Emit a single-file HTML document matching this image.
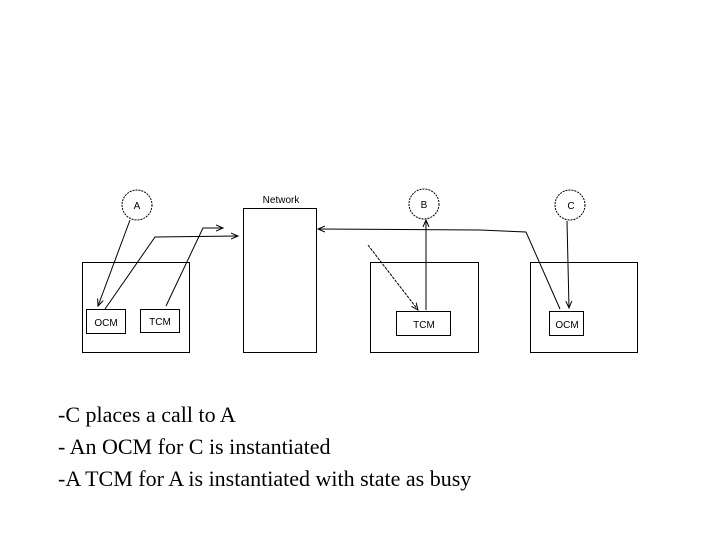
<!DOCTYPE html>
<html><head><style>
body{margin:0;background:#fff;width:720px;height:540px;overflow:hidden}
</style></head><body>
<svg width="720" height="540" xmlns="http://www.w3.org/2000/svg" style="position:absolute;left:0;top:0">
<defs><marker id="a" markerWidth="8" markerHeight="8" refX="7" refY="4" orient="auto" markerUnits="userSpaceOnUse"><path d="M0,1 L7,4 L0,7" fill="none" stroke="#000" stroke-width="1"/></marker></defs>
<g fill="none" stroke="#000" stroke-width="1">
<circle cx="137" cy="205" r="15" stroke-dasharray="2,1"/>
<circle cx="424" cy="204" r="15" stroke-dasharray="2,1"/>
<circle cx="570" cy="205" r="15" stroke-dasharray="2,1"/>
<rect x="82.5" y="262.5" width="107" height="90"/>
<rect x="86.5" y="309.5" width="39" height="24"/>
<rect x="140.5" y="309.5" width="39" height="23"/>
<rect x="243.5" y="208.5" width="73" height="144"/>
<rect x="370.5" y="262.5" width="108" height="90"/>
<rect x="396.5" y="311.5" width="54" height="24"/>
<rect x="530.5" y="262.5" width="107" height="90"/>
<rect x="549.5" y="311.5" width="34" height="24"/>
<line x1="130" y1="220" x2="98" y2="306" marker-end="url(#a)"/>
<polyline points="105,309 155,237 238,236" marker-end="url(#a)"/>
<polyline points="166,306 203,228 223,228" marker-end="url(#a)"/>
<polyline points="560,309 526,232 480,230 318,229" marker-end="url(#a)"/>
<line x1="426" y1="310" x2="426" y2="220" marker-end="url(#a)"/>
<line x1="368" y1="245" x2="418" y2="310" stroke-dasharray="3,1" marker-end="url(#a)"/>
<line x1="567" y1="221" x2="569" y2="308" marker-end="url(#a)"/>
</g>
<g font-family="Liberation Sans, sans-serif" font-size="10" fill="#000">
<text x="137" y="209" text-anchor="middle">A</text>
<text x="424" y="208" text-anchor="middle">B</text>
<text x="571" y="209" text-anchor="middle">C</text>
<text x="281" y="203" text-anchor="middle">Network</text>
<text x="106" y="326" text-anchor="middle">OCM</text>
<text x="160" y="325" text-anchor="middle">TCM</text>
<text x="424" y="328" text-anchor="middle">TCM</text>
<text x="567" y="328" text-anchor="middle">OCM</text>
</g>
<g font-family="Liberation Serif, serif" font-size="22" fill="#000">
<text x="58" y="422">-C places a call to A</text>
<text x="58" y="454">- An OCM for C is instantiated</text>
<text x="58" y="486">-A TCM for A is instantiated with state as busy</text>
</g>
</svg>
</body></html>
